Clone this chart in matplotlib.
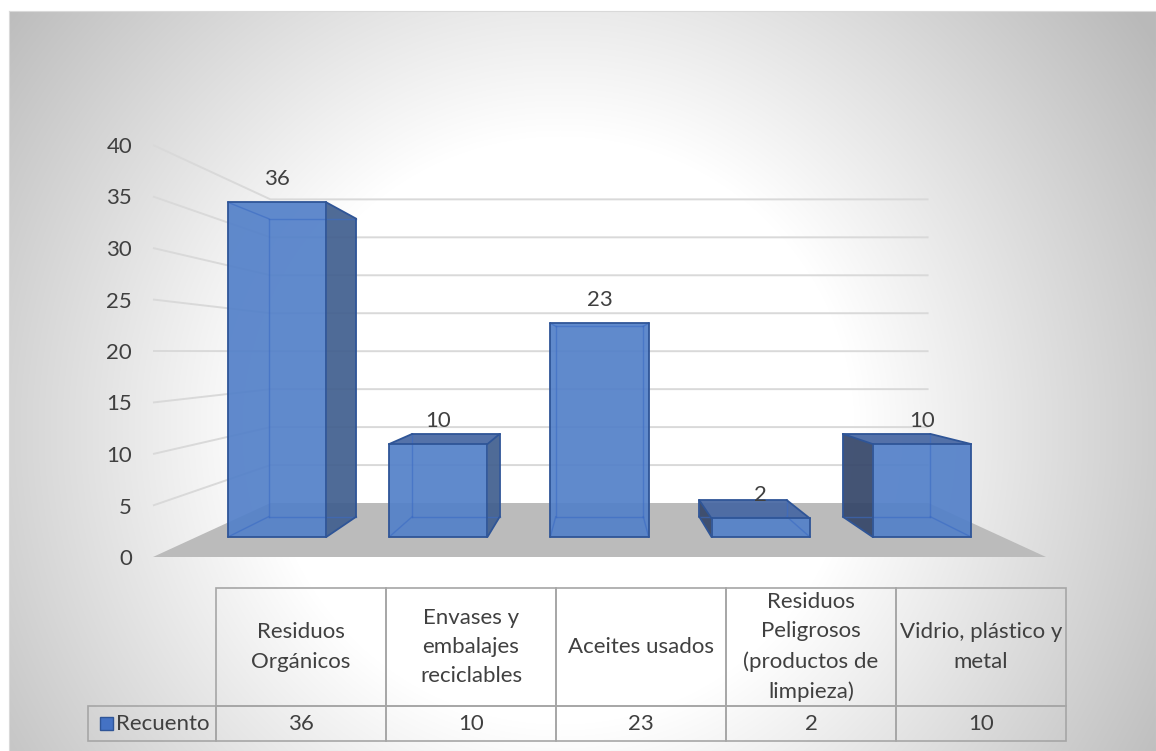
import numpy as np
import matplotlib
matplotlib.use("Agg")
import matplotlib.pyplot as plt
from matplotlib.patches import Polygon, Rectangle
from matplotlib.table import Table

plt.rcParams['font.family'] = ['Lato', 'DejaVu Sans']

# datos
categorias = ['Residuos\nOrgánicos', 'Envases y\nembalajes\nreciclables',
              'Aceites usados', 'Residuos\nPeligrosos\n(productos de\nlimpieza)',
              'Vidrio, plástico y\nmetal']
recuento = [36, 10, 23, 2, 10]
serie = 'Recuento'
marcas_y = [0, 5, 10, 15, 20, 25, 30, 35, 40]

W, H = 1156, 751
TXT = '#404040'
FS = 16

# perspectiva de un punto: punto de fuga (en unidades de datos) y escalas de profundidad
FUGA = (2.0, 19.93)
S_FONDO = 0.737
S_FRENTE_BARRA = 0.9026
S_FONDO_BARRA = 0.8037
ANCHO = 0.61


def proyectar(x, y, s):
    return FUGA[0] + (x - FUGA[0]) * s, FUGA[1] + (y - FUGA[1]) * s


fig = plt.figure(figsize=(W / 100, H / 100), dpi=100)

# fondo con degradado radial
bg = fig.add_axes([9 / W, 0, (W - 9) / W, (H - 11) / H])
jj, ii = np.meshgrid(np.arange(9, W), np.arange(11, H))
t = np.hypot(jj - 560, ii - 430) / 700
gris = 255 - 70 * np.clip((t - 0.42) / 0.6, 0, 1)
img = np.dstack([gris, gris, gris]).astype(np.uint8)
bg.imshow(img, aspect='auto', interpolation='bilinear')
bg.set_xticks([])
bg.set_yticks([])
for sp in bg.spines.values():
    sp.set_color('#D9D9D9')

# plano frontal del gráfico
ax = fig.add_axes([153 / W, (H - 557) / H, 893 / W, 412 / H])
ax.set_xlim(-0.5, 4.5)
ax.set_ylim(0, 40)
ax.patch.set_visible(False)
for sp in ax.spines.values():
    sp.set_visible(False)
ax.set_xticks([])
ax.set_yticks(marcas_y)
ax.tick_params(axis='y', length=0, pad=15, labelsize=FS, labelcolor=TXT)

# líneas de división en pared lateral y pared del fondo
for m in marcas_y[1:]:
    xa, ya = proyectar(-0.5, m, 1)
    xb, yb = proyectar(-0.5, m, S_FONDO)
    xc, yc = proyectar(4.5, m, S_FONDO)
    ax.plot([xa, xb, xc], [ya, yb, yc], color='#D9D9D9', lw=1.4,
            zorder=1, clip_on=False, solid_capstyle='butt')

# suelo
suelo = [proyectar(-0.5, 0, 1), proyectar(4.5, 0, 1),
         proyectar(4.5, 0, S_FONDO), proyectar(-0.5, 0, S_FONDO)]
ax.add_patch(Polygon(suelo, closed=True, facecolor='#BBBBBB',
                     edgecolor='none', zorder=2))

colores_cara = {('z', 0): '#5481C9', ('x', 1): '#42608F',
                ('x', 0): '#36476A', ('y', 1): '#4767A3'}


def dibujar_barra(i, v):
    xs = (i - ANCHO / 2, i + ANCHO / 2)
    ys = (0, v)
    ss = (S_FRENTE_BARRA, S_FONDO_BARRA)

    def esq(a, b, c):
        return proyectar(xs[a], ys[b], ss[c])

    visibles = {('z', 0)}
    if xs[1] < FUGA[0]:
        visibles.add(('x', 1))
    if xs[0] > FUGA[0]:
        visibles.add(('x', 0))
    if v < FUGA[1]:
        visibles.add(('y', 1))

    caras = {
        ('x', 0): [esq(0, 0, 0), esq(0, 0, 1), esq(0, 1, 1), esq(0, 1, 0)],
        ('x', 1): [esq(1, 0, 0), esq(1, 0, 1), esq(1, 1, 1), esq(1, 1, 0)],
        ('y', 1): [esq(0, 1, 0), esq(1, 1, 0), esq(1, 1, 1), esq(0, 1, 1)],
        ('z', 0): [esq(0, 0, 0), esq(1, 0, 0), esq(1, 1, 0), esq(0, 1, 0)],
    }
    for clave in [('x', 0), ('x', 1), ('y', 1), ('z', 0)]:
        if clave in visibles:
            ax.add_patch(Polygon(caras[clave], closed=True,
                                 facecolor=colores_cara[clave], alpha=0.93,
                                 edgecolor='none', zorder=3))

    # aristas: ocultas más claras, visibles en azul oscuro
    ejes = ['x', 'y', 'z']
    for k in range(3):
        otros = [e for e in range(3) if e != k]
        for p in (0, 1):
            for q in (0, 1):
                a = [0, 0, 0]
                a[otros[0]], a[otros[1]] = p, q
                b = list(a)
                b[k] = 1
                fija = {(ejes[otros[0]], p), (ejes[otros[1]], q)}
                p1, p2 = esq(*a), esq(*b)
                if fija & visibles:
                    ax.plot([p1[0], p2[0]], [p1[1], p2[1]], color='#2F5597',
                            lw=1.3, zorder=5, solid_capstyle='round')
                else:
                    ax.plot([p1[0], p2[0]], [p1[1], p2[1]], color='#3B6BC4',
                            lw=1.0, alpha=0.6, zorder=4)

    ax.annotate(str(v), xy=proyectar(i, v, S_FRENTE_BARRA), xytext=(0, 12.3),
                textcoords='offset points', ha='center', va='baseline',
                fontsize=FS, color=TXT, zorder=6)


for i, v in enumerate(recuento):
    dibujar_barra(i, v)

# tabla de datos
x_ini, x_fin, y_ini, y_fin = 88, 1066, 588, 741
tax = fig.add_axes([x_ini / W, (H - y_fin) / H, (x_fin - x_ini) / W,
                    (y_fin - y_ini) / H])
tax.set_axis_off()
tax.set_xlim(x_ini, x_fin)
tax.set_ylim(y_fin, y_ini)

ancho_rot = 128
ancho_col = (x_fin - x_ini - ancho_rot) / len(categorias)
alto_cab, alto_val = 118, 35
tabla = Table(tax, bbox=[0, 0, 1, 1])
tabla.add_cell(0, 0, width=ancho_rot, height=alto_cab, text='',
               facecolor='none', edgecolor='none')
for j, cat in enumerate(categorias):
    tabla.add_cell(0, j + 1, width=ancho_col, height=alto_cab, text=cat,
                   loc='center', facecolor='none', edgecolor='#A6A6A6')
c = tabla.add_cell(1, 0, width=ancho_rot, height=alto_val, text=serie,
                   loc='right', facecolor='none', edgecolor='#A6A6A6')
c.PAD = 0.05
for j, v in enumerate(recuento):
    tabla.add_cell(1, j + 1, width=ancho_col, height=alto_val, text=str(v),
                   loc='center', facecolor='none', edgecolor='#A6A6A6')
tabla.auto_set_font_size(False)
tabla.set_fontsize(FS)
for celda in tabla.get_celld().values():
    celda.set_linewidth(1.2)
    celda.get_text().set_color(TXT)
    celda.get_text().set_linespacing(1.58)
tax.add_table(tabla)

# clave de la serie junto a "Recuento"
tax.add_patch(Rectangle((100, 717), 13, 13, facecolor='#4472C4',
                        edgecolor='#2F5597', lw=1))

fig.savefig('out.png', dpi=100)
